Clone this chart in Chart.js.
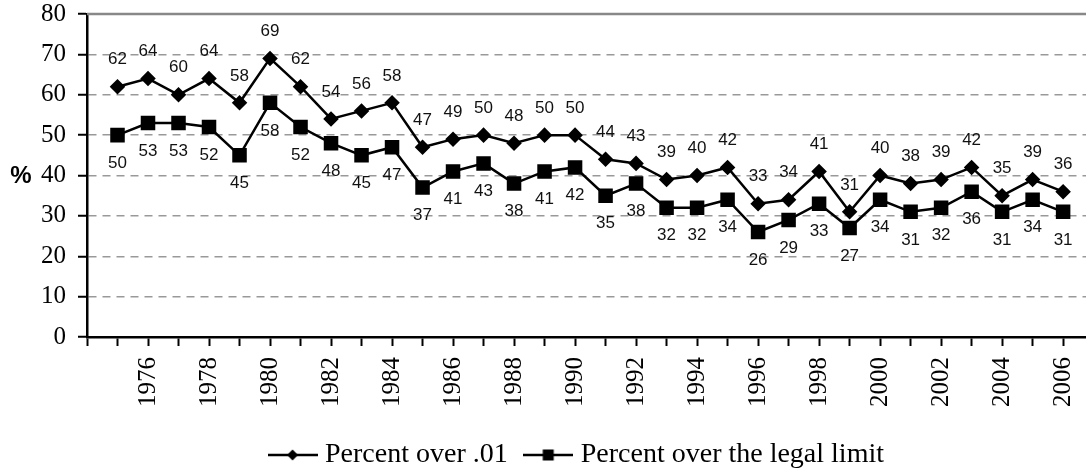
<!DOCTYPE html>
<html>
<head>
<meta charset="utf-8">
<script src="https://cdn.jsdelivr.net/npm/chart.js@4/dist/chart.umd.min.js"></script>
<style>
  html, body { margin: 0; padding: 0; background: #fff; }
  #wrap { width: 1086px; height: 471px; }
</style>
</head>
<body>
<div id="wrap"><canvas id="chart" width="1086" height="471"></canvas></div>
<script>
// Lata i wartości
var years = [1975, 1976, 1977, 1978, 1979, 1980, 1981, 1982, 1983, 1984, 1985, 1986, 1987, 1988, 1989, 1990,
  1991, 1992, 1993, 1994, 1995, 1996, 1997, 1998, 1999, 2000, 2001, 2002, 2003, 2004, 2005, 2006];
var overPt01 = [62, 64, 60, 64, 58, 69, 62, 54, 56, 58, 47, 49, 50, 48, 50, 50,
  44, 43, 39, 40, 42, 33, 34, 41, 31, 40, 38, 39, 42, 35, 39, 36];
var overLegal = [50, 53, 53, 52, 45, 58, 52, 48, 45, 47, 37, 41, 43, 38, 41, 42,
  35, 38, 32, 32, 34, 26, 29, 33, 27, 34, 31, 32, 36, 31, 34, 31];
var seriesNames = ["Percent over .01", "Percent over the legal limit"];
var yTicks = [0, 10, 20, 30, 40, 50, 60, 70, 80];

var serif = "'Liberation Serif', 'Times New Roman', serif";
var sans = "'Liberation Sans', Arial, sans-serif";

// Ikona legendy: linia z markerem w środku
function legendIcon(kind) {
  var c = document.createElement("canvas");
  c.width = 50;
  c.height = 14;
  var g = c.getContext("2d");
  g.strokeStyle = "#000";
  g.lineWidth = 2.5;
  g.beginPath();
  g.moveTo(0, 7);
  g.lineTo(50, 7);
  g.stroke();
  g.fillStyle = "#000";
  if (kind === "diamond") {
    g.beginPath();
    g.moveTo(25, 1.5);
    g.lineTo(30.5, 7);
    g.lineTo(25, 12.5);
    g.lineTo(19.5, 7);
    g.closePath();
    g.fill();
  } else {
    g.fillRect(19.5, 1.5, 11, 11);
  }
  return c;
}
var icons = [legendIcon("diamond"), legendIcon("square")];

function toPoints(vals) {
  return vals.map(function (v, i) {
    return { x: years[i], y: v };
  });
}

// Etykiety wartości nad / pod punktami, górna krawędź i znak %
var extras = {
  id: "extras",
  afterLayout: function (chart) {
    // przesunięcie legendy w prawo, jak w oryginale
    chart.legend.left = 72;
  },
  afterDatasetsDraw: function (chart) {
    var ctx = chart.ctx;
    ctx.save();
    ctx.font = "17px " + sans;
    ctx.fillStyle = "#111";
    ctx.textAlign = "center";
    ctx.textBaseline = "middle";
    chart.data.datasets.forEach(function (ds, di) {
      var meta = chart.getDatasetMeta(di);
      meta.data.forEach(function (pt, i) {
        var dy = di === 0 ? -27 : 28;
        ctx.fillText(String(ds.data[i].y), pt.x, pt.y + dy);
      });
    });
    ctx.restore();
  },
  afterDraw: function (chart) {
    var ctx = chart.ctx;
    var area = chart.chartArea;
    var y = chart.scales.y;
    ctx.save();
    ctx.strokeStyle = "#888";
    ctx.lineWidth = 2.5;
    ctx.beginPath();
    ctx.moveTo(area.left, y.getPixelForValue(80));
    ctx.lineTo(area.right, y.getPixelForValue(80));
    ctx.stroke();
    ctx.font = "bold 24px " + sans;
    ctx.fillStyle = "#000";
    ctx.textAlign = "center";
    ctx.textBaseline = "middle";
    ctx.fillText("%", 21, y.getPixelForValue(40) + 1);
    ctx.restore();
  }
};

new Chart(document.getElementById("chart"), {
  type: "line",
  data: {
    datasets: [
      {
        label: seriesNames[0],
        data: toPoints(overPt01),
        borderColor: "#000",
        backgroundColor: "#000",
        borderWidth: 2.5,
        pointStyle: "rectRot",
        pointRadius: 6,
        pointHoverRadius: 6,
        tension: 0
      },
      {
        label: seriesNames[1],
        data: toPoints(overLegal),
        borderColor: "#000",
        backgroundColor: "#000",
        borderWidth: 2.5,
        pointStyle: "rect",
        pointRadius: 8.5,
        pointHoverRadius: 8.5,
        tension: 0
      }
    ]
  },
  options: {
    responsive: false,
    animation: false,
    layout: { autoPadding: false, padding: { left: 0, right: 0, top: 14, bottom: -8 } },
    scales: {
      x: {
        type: "linear",
        min: 1974,
        max: 2006.75,
        afterFit: function (scale) {
          scale.height = 82;
          scale.paddingLeft = 0;
          scale.paddingRight = 0;
        },
        ticks: {
          stepSize: 1,
          autoSkip: false,
          includeBounds: false,
          minRotation: 90,
          maxRotation: 90,
          padding: 11,
          color: "#000",
          font: { family: serif, size: 25 },
          callback: function (v) {
            return v % 2 === 0 && v > 1974 ? String(v) : "";
          }
        },
        grid: {
          drawOnChartArea: false,
          drawTicks: true,
          tickLength: 9,
          tickColor: "#000",
          tickWidth: 2
        },
        border: { color: "#000", width: 2.5 }
      },
      y: {
        min: 0,
        max: 80,
        afterFit: function (scale) {
          scale.width = 87;
          scale.paddingTop = 0;
          scale.paddingBottom = 0;
        },
        afterBuildTicks: function (scale) {
          scale.ticks = yTicks.map(function (v) { return { value: v }; });
        },
        ticks: {
          padding: 12,
          color: "#000",
          font: { family: serif, size: 25 }
        },
        grid: {
          color: "#999",
          lineWidth: 1.5,
          tickLength: 9,
          tickColor: "#000",
          tickWidth: 2
        },
        border: { color: "#000", width: 2.5, dash: [8, 6] }
      }
    },
    plugins: {
      legend: {
        position: "bottom",
        labels: {
          usePointStyle: true,
          pointStyleWidth: 37,
          padding: 22,
          color: "#000",
          font: { family: serif, size: 28 },
          generateLabels: function (chart) {
            return chart.data.datasets.map(function (ds, i) {
              return {
                text: ds.label,
                pointStyle: icons[i],
                fillStyle: "#000",
                strokeStyle: "#000",
                lineWidth: 0,
                fontColor: "#000",
                hidden: false,
                datasetIndex: i
              };
            });
          }
        }
      },
      tooltip: { enabled: false }
    }
  },
  plugins: [extras]
});
</script>
</body>
</html>
